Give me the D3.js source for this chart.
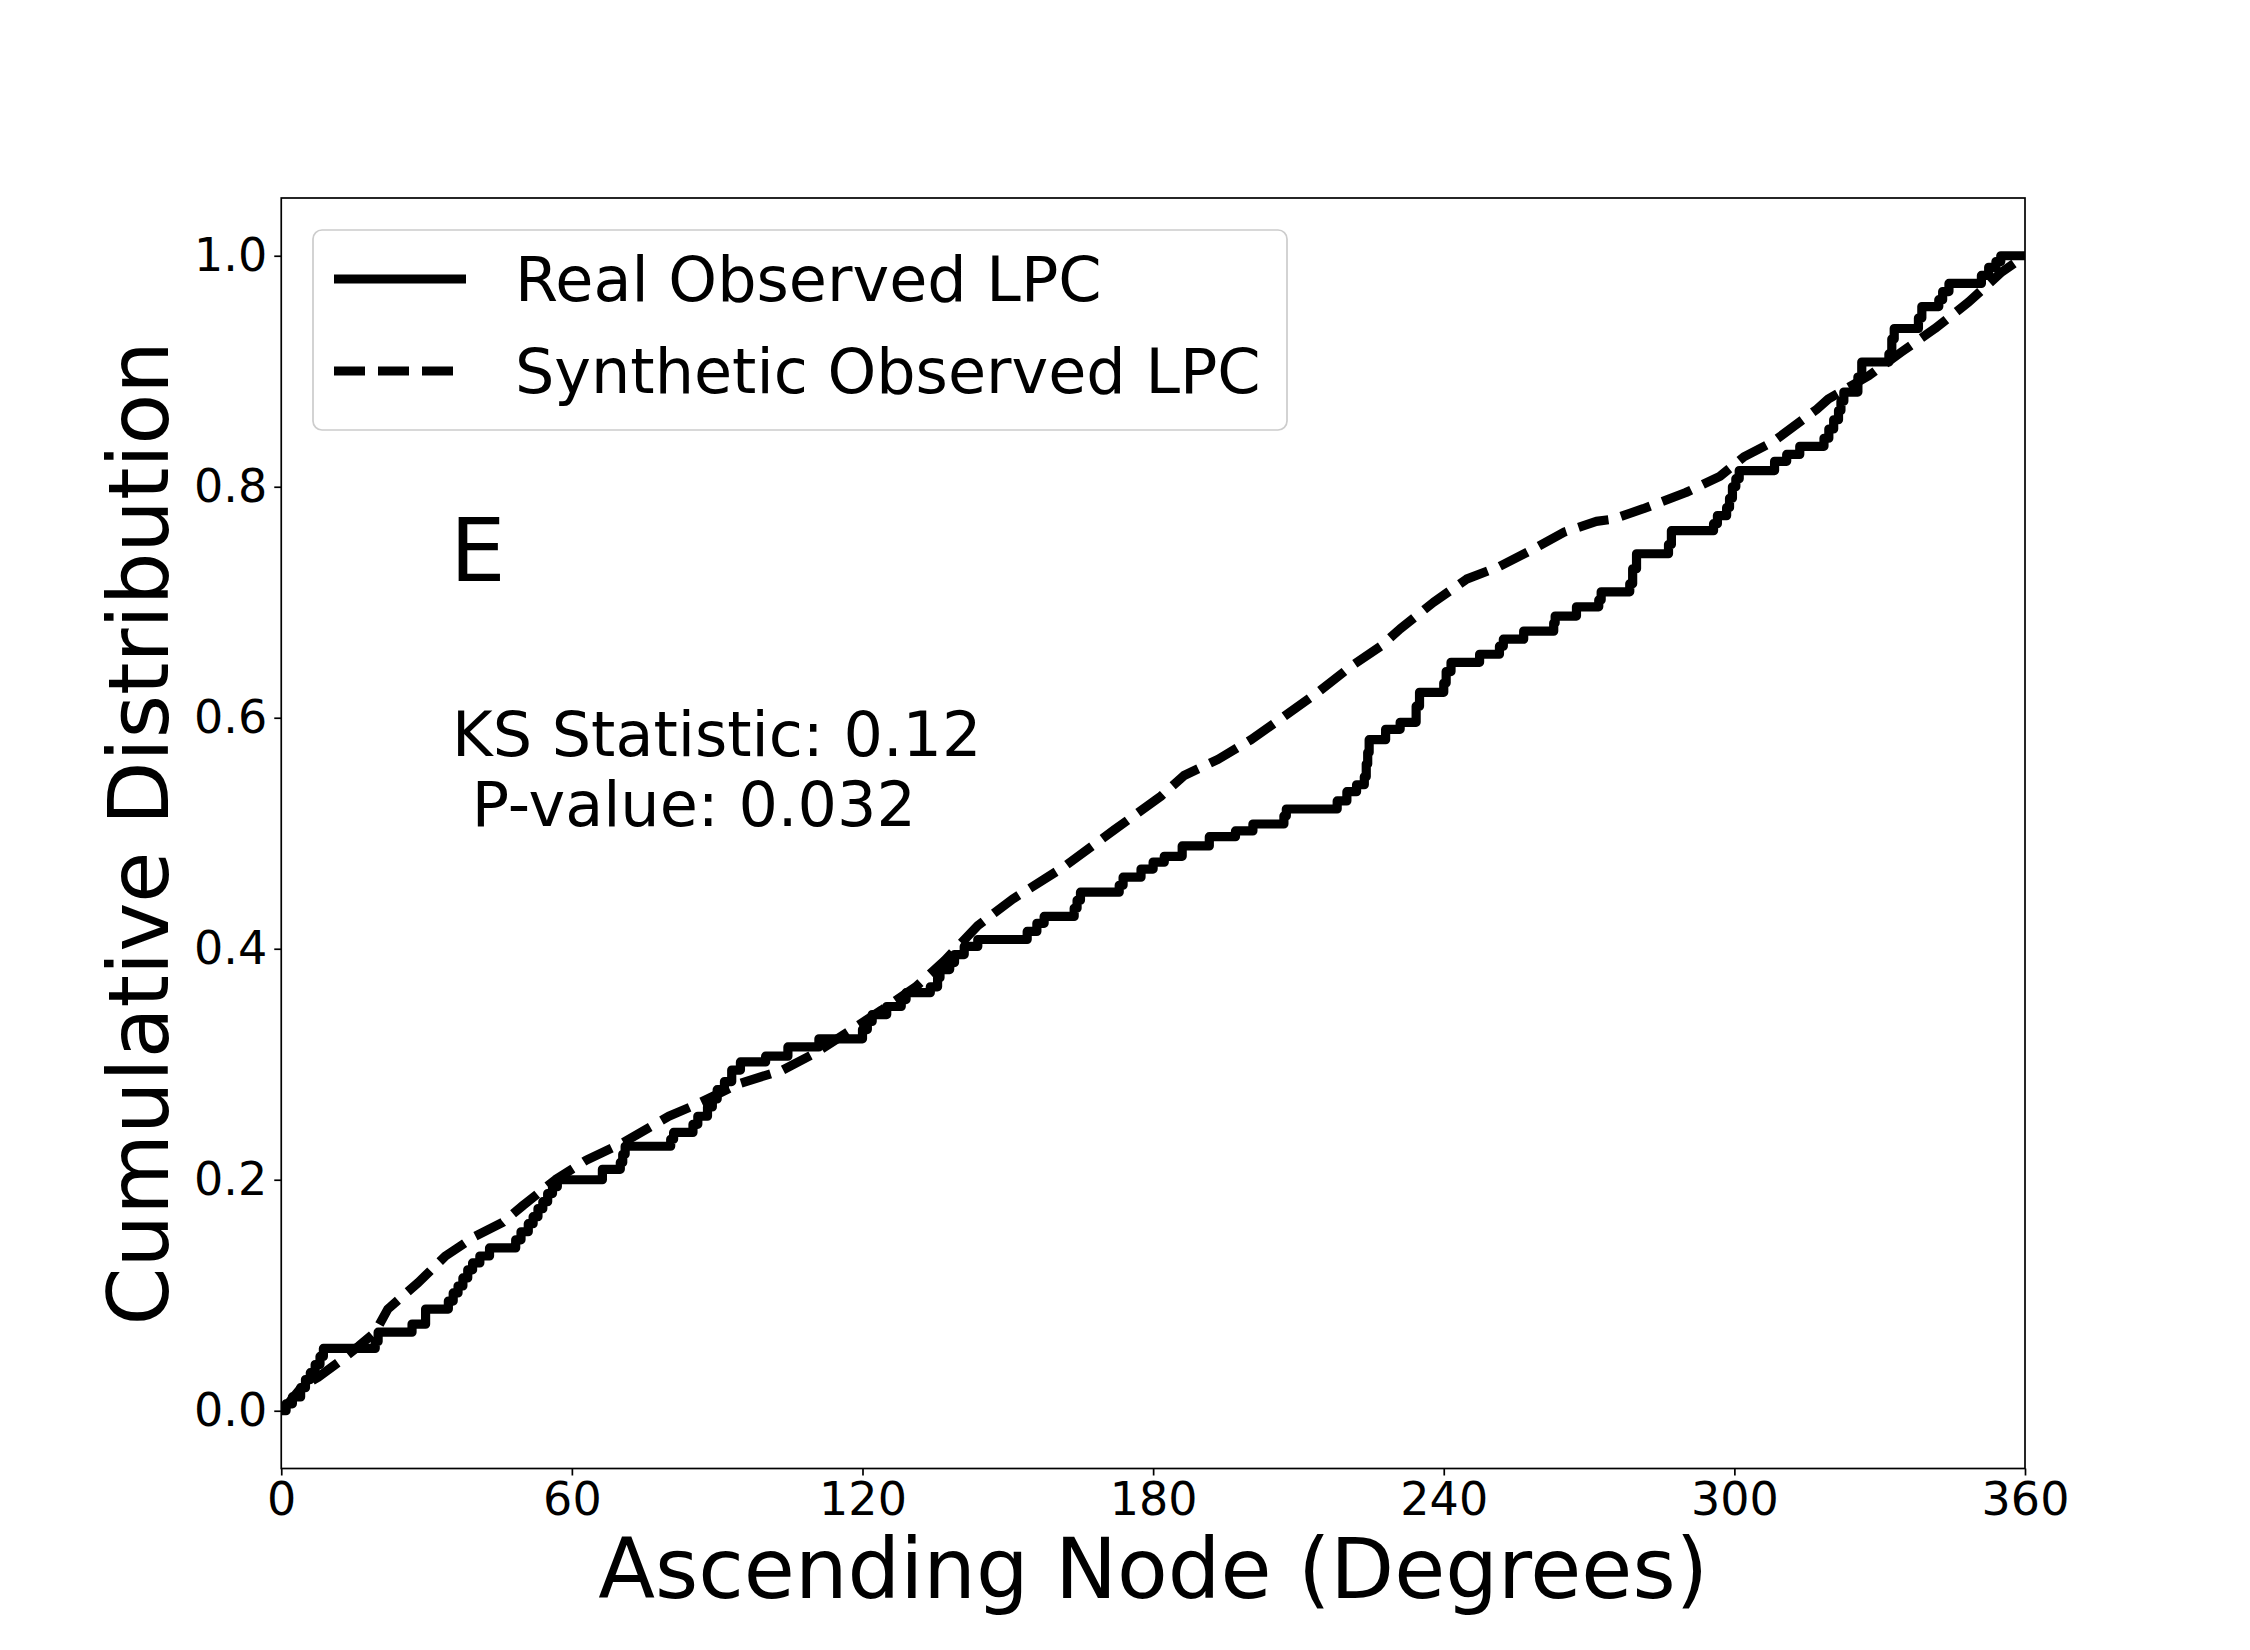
<!DOCTYPE html>
<html>
<head>
<meta charset="utf-8">
<script src="https://cdn.jsdelivr.net/npm/d3@7"></script>
<style>
  html, body { margin: 0; padding: 0; background: #fff; }
  svg { display: block; font-family: "DejaVu Sans", sans-serif; }
</style>
</head>
<body>
<div id="chart"></div>
<script>
// real observed LPC: step cdf, angle where each level starts
var realAngle = [0, 1, 2.3, 4, 5, 6, 7, 8, 8.7, 19.4, 20, 27, 29.8, 34.5, 35.5, 36.5, 37.5, 38.5, 39.5, 41, 43,
    48.4, 49.5, 51, 52, 53, 54, 55, 56, 57, 66.3, 70, 70.5, 71, 80.4, 81, 85, 86, 88, 89, 90, 91.5, 93, 94.8,
    100, 104.6, 111, 120, 121, 122, 125, 128, 129, 134, 135.5, 136, 138, 139, 141, 143.8, 154, 156, 157.5,
    163.7, 164.3, 165, 173, 173.8, 177.5, 180, 182.3, 186, 191.6, 197, 200.6, 207, 207.5, 218, 220, 222,
    223.6, 224, 224.3, 224.6, 228, 231, 234.3, 235, 240, 240.5, 241.5, 247.4, 251.5, 252.3, 256.5, 262.7,
    263, 267.4, 272, 272.5, 278.4, 279, 279.8, 286.4, 287, 295.7, 296.5, 298.4, 299, 299.6, 300.3, 301,
    308.3, 310.8, 313.5, 318.5, 319.5, 320.5, 321.5, 322, 322.6, 325.5, 326.3, 331.9, 332.5, 333, 338,
    338.7, 342.2, 343, 344.3, 351, 352.5, 354, 355, 360];
var realCdf = [0, 0.006, 0.012, 0.02, 0.027, 0.033, 0.04, 0.047, 0.054, 0.06, 0.068, 0.075, 0.088, 0.095, 0.102,
    0.108, 0.115, 0.122, 0.128, 0.134, 0.141, 0.148, 0.155, 0.162, 0.168, 0.175, 0.181, 0.188, 0.194, 0.2,
    0.209, 0.215, 0.222, 0.229, 0.235, 0.241, 0.248, 0.255, 0.263, 0.27, 0.278, 0.285, 0.295, 0.302, 0.307,
    0.315, 0.322, 0.33, 0.337, 0.343, 0.35, 0.356, 0.362, 0.367, 0.375, 0.382, 0.388, 0.395, 0.402, 0.408,
    0.415, 0.422, 0.428, 0.435, 0.442, 0.449, 0.455, 0.462, 0.469, 0.475, 0.48, 0.489, 0.497, 0.502, 0.508,
    0.515, 0.521, 0.528, 0.536, 0.542, 0.549, 0.56, 0.57, 0.581, 0.59, 0.596, 0.61, 0.622, 0.63, 0.64, 0.648,
    0.655, 0.662, 0.668, 0.675, 0.682, 0.688, 0.696, 0.702, 0.709, 0.716, 0.729, 0.742, 0.75, 0.762, 0.768,
    0.775, 0.782, 0.79, 0.8, 0.807, 0.814, 0.822, 0.828, 0.835, 0.842, 0.85, 0.858, 0.866, 0.874, 0.882,
    0.895, 0.908, 0.915, 0.928, 0.937, 0.946, 0.956, 0.962, 0.969, 0.976, 0.983, 0.99, 0.995, 1.0, 1.0];

// synthetic observed LPC
var synthAngle = [0, 0.8, 4.3, 7.6, 11.8, 16, 19.4, 22, 28.3, 33.9, 40, 45.7, 50, 56.6, 63, 70.5, 80, 85.6, 92,
    94.4, 103.5, 110.4, 117, 124, 131, 137, 143.8, 151, 161.6, 172, 181.6, 186.4, 193.4, 200.2, 207, 214,
    221, 227, 231, 237.9, 244.7, 251.5, 258.5, 265, 271.5, 275, 281.2, 290, 297, 302, 308, 317, 319.4,
    327.7, 334.6, 341.4, 348.4, 355.2, 360];
var synthCdf = [0, 0.003, 0.021, 0.029, 0.042, 0.056, 0.068, 0.088, 0.111, 0.134, 0.151, 0.163, 0.178, 0.2,
    0.217, 0.232, 0.255, 0.265, 0.278, 0.283, 0.295, 0.31, 0.328, 0.347, 0.367, 0.39, 0.42, 0.443, 0.471,
    0.503, 0.532, 0.55, 0.564, 0.581, 0.601, 0.622, 0.645, 0.662, 0.677, 0.7, 0.72, 0.731, 0.746, 0.761,
    0.77, 0.772, 0.781, 0.795, 0.809, 0.826, 0.839, 0.867, 0.876, 0.896, 0.917, 0.937, 0.96, 0.986, 1.0];

var xTicks = [0, 60, 120, 180, 240, 300, 360];
var yTicks = [0, 0.2, 0.4, 0.6, 0.8, 1.0];
var seriesNames = ['Real Observed LPC', 'Synthetic Observed LPC'];

var width = 2250, height = 1650;
var plotLeft = 281.25, plotRight = 2025, plotTop = 198, plotBottom = 1468.5;
var lineW = 9.2;

var svg = d3.select('#chart').append('svg')
    .attr('width', width)
    .attr('height', height);

var x = d3.scaleLinear().domain([0, 360]).range([plotLeft, plotRight]);
var y = d3.scaleLinear().domain([-0.05, 1.05]).range([plotBottom, plotTop]);

svg.append('clipPath').attr('id', 'plotclip')
    .append('rect')
    .attr('x', plotLeft).attr('y', plotTop)
    .attr('width', plotRight - plotLeft).attr('height', plotBottom - plotTop);

var real = realAngle.map(function (a, i) { return [a, realCdf[i]]; });
var synth = synthAngle.map(function (a, i) { return [a, synthCdf[i]]; });

var stepLine = d3.line()
    .x(function (d) { return x(d[0]); })
    .y(function (d) { return y(d[1]); })
    .curve(d3.curveStepAfter);
var smoothLine = d3.line()
    .x(function (d) { return x(d[0]); })
    .y(function (d) { return y(d[1]); });

var plot = svg.append('g').attr('clip-path', 'url(#plotclip)');

plot.append('path')
    .attr('d', stepLine(real))
    .attr('fill', 'none')
    .attr('stroke', '#000')
    .attr('stroke-width', lineW)
    .attr('stroke-linejoin', 'round');

plot.append('path')
    .attr('d', smoothLine(synth))
    .attr('fill', 'none')
    .attr('stroke', '#000')
    .attr('stroke-width', lineW)
    .attr('stroke-dasharray', '31,13')
    .attr('stroke-linejoin', 'round');

// axes
var xAxis = svg.append('g')
    .attr('transform', 'translate(0,' + plotBottom + ')')
    .call(d3.axisBottom(x).tickValues(xTicks).tickSize(7).tickPadding(7).tickSizeOuter(0));
var yAxis = svg.append('g')
    .attr('transform', 'translate(' + plotLeft + ',0)')
    .call(d3.axisLeft(y).tickValues(yTicks).tickSize(7).tickPadding(7).tickSizeOuter(0)
        .tickFormat(d3.format('.1f')));

[xAxis, yAxis].forEach(function (g) {
    g.select('.domain').remove();
    g.selectAll('.tick line').attr('stroke', '#000').attr('stroke-width', 1.7);
    g.selectAll('.tick text')
        .attr('fill', '#000')
        .style('font-family', '"DejaVu Sans", sans-serif')
        .style('font-size', '46px');
});

// frame
svg.append('rect')
    .attr('x', plotLeft).attr('y', plotTop)
    .attr('width', plotRight - plotLeft).attr('height', plotBottom - plotTop)
    .attr('fill', 'none')
    .attr('stroke', '#000')
    .attr('stroke-width', 1.7);

// axis labels
svg.append('text')
    .attr('x', (plotLeft + plotRight) / 2)
    .attr('y', 1598)
    .attr('text-anchor', 'middle')
    .style('font-size', '83px')
    .text('Ascending Node (Degrees)');

svg.append('text')
    .attr('transform', 'translate(168,' + (plotTop + plotBottom) / 2 + ') rotate(-90)')
    .attr('text-anchor', 'middle')
    .style('font-size', '83px')
    .text('Cumulative Distribution');

// annotations
svg.append('text')
    .attr('x', 450).attr('y', 581)
    .style('font-size', '88px')
    .text('E');

svg.append('text')
    .attr('x', 452).attr('y', 756)
    .style('font-size', '62px')
    .text('KS Statistic: 0.12');
svg.append('text')
    .attr('x', 452).attr('y', 826)
    .style('font-size', '62px')
    .style('white-space', 'pre')
    .text(' P-value: 0.032');

// legend
var legend = svg.append('g');
legend.append('rect')
    .attr('x', 313).attr('y', 230)
    .attr('width', 974).attr('height', 200)
    .attr('rx', 9).attr('ry', 9)
    .attr('fill', '#fff').attr('fill-opacity', 0.8)
    .attr('stroke', '#cccccc').attr('stroke-width', 1.7);

var legendY = [279, 371];
seriesNames.forEach(function (name, i) {
    legend.append('line')
        .attr('x1', 334).attr('x2', 466)
        .attr('y1', legendY[i]).attr('y2', legendY[i])
        .attr('stroke', '#000')
        .attr('stroke-width', lineW)
        .attr('stroke-dasharray', i === 1 ? '31,13' : null);
    legend.append('text')
        .attr('x', 515).attr('y', legendY[i] + 22)
        .style('font-size', '62px')
        .text(name);
});
</script>
</body>
</html>
